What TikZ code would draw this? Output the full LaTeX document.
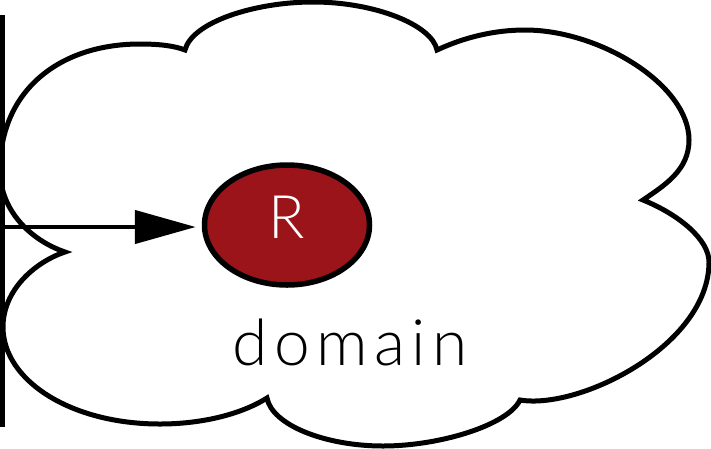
\documentclass[tikz,border=0pt]{standalone}
\usepackage{fontspec}
\setmainfont{Lato Light}
\usetikzlibrary{arrows.meta,shapes.geometric}
\definecolor{rnode}{RGB}{155,20,26}

\begin{document}
\begin{tikzpicture}[x=1pt,y=-1pt,
  cloudline/.style={line width=5pt, line join=miter, draw=black},
  wall/.style={line width=5pt},
  resource/.style={ellipse, draw=black, line width=5.5pt, fill=rnode,
    minimum width=165pt, minimum height=120pt, inner sep=0pt},
  rtext/.style={text=white, font=\fontsize{60}{66}\selectfont, inner sep=0pt},
  domtext/.style={font=\addfontfeatures{LetterSpace=10}\fontsize{64}{70}\selectfont, inner sep=0pt, anchor=base},
  link/.style={line width=4.5pt, -{Triangle[length=61pt,width=33pt]}, shorten >=6pt}]
\useasboundingbox (0,0) rectangle (711,448);

% cloud outline: six lobes meeting at sharp cusps
\draw[cloudline] (65,252)
  .. controls (30,240) and (0,210) .. (0,170)
  .. controls (0,90) and (60,44) .. (140,44)
  .. controls (160,44) and (175,46) .. (185,50)
  .. controls (192,22) and (255,2) .. (313,2)
  .. controls (375,2) and (432,25) .. (437,50)
  .. controls (465,37) and (495,30) .. (525,30)
  .. controls (600,30) and (689,85) .. (689,140)
  .. controls (689,170) and (665,185) .. (643,200)
  .. controls (680,215) and (709,240) .. (709,262)
  .. controls (709,345) and (580,410) .. (520,400)
  .. controls (508,425) and (440,446) .. (383,446)
  .. controls (325,446) and (272,425) .. (267,398)
  .. controls (240,415) and (200,424) .. (160,424)
  .. controls (70,424) and (3,380) .. (3,327)
  .. controls (3,290) and (35,262) .. (65,252) -- cycle;

% boundary wall
\coordinate (wallTop) at (2,15);
\coordinate (wallBot) at (2,427);
\draw[wall] (wallTop) -- (wallBot);

% resource node
\node[resource] (R) at (287,225) {};
\node[rtext] (Rlabel) at ([yshift=8pt]R.center) {R};

% incoming request
\coordinate (entry) at (2,227);
\draw[link] (entry) -- (entry -| R.west);

% domain caption
\node[domtext] (dom) at (350,365) {domain};
\end{tikzpicture}
\end{document}
